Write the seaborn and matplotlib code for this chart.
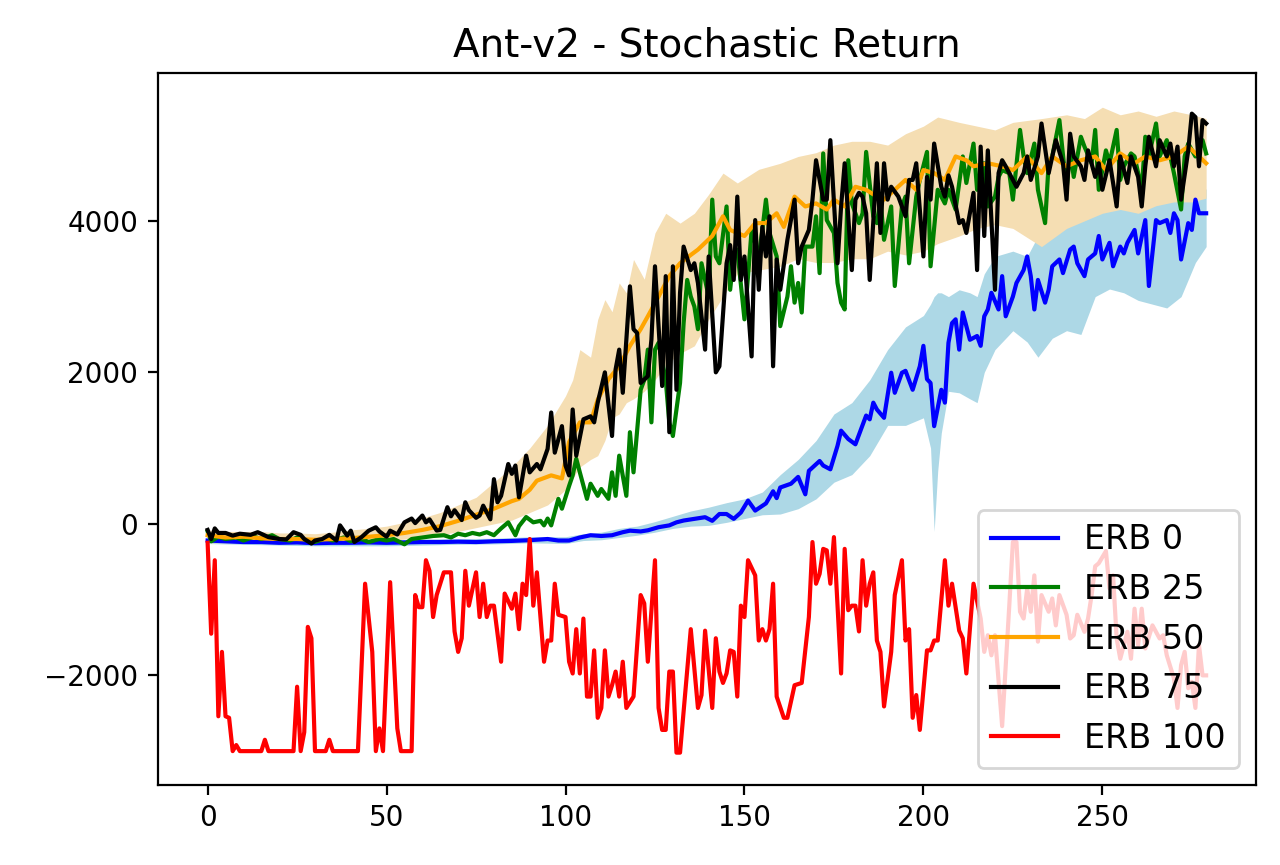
import numpy as np
import matplotlib
matplotlib.use('Agg')
import matplotlib.pyplot as plt
import seaborn as sns

# ERB 0 (blue) mean curve
erb0_x = [0, 5, 10, 15, 20, 25, 30, 35, 40, 45, 50, 55, 60, 65, 70, 75, 80, 85, 90, 95,
          98, 101, 104, 107, 110, 113, 116, 118, 121, 123, 126, 129, 131, 133, 136, 139, 141,
          143, 145, 147, 149, 151, 153, 156, 158, 159, 160, 163, 165, 167, 168, 171, 172, 174,
          176, 177, 179, 181, 184, 185, 186, 187, 189, 191, 192, 194, 195, 197, 199, 200, 201,
          202, 203, 205, 206, 207, 208, 209, 210, 211, 213, 215, 216, 217, 218, 219, 221, 222,
          223, 225, 226, 228, 229, 230, 231, 232, 234, 235, 236, 238, 239, 241, 242, 243, 245,
          246, 248, 249, 250, 252, 253, 255, 256, 257, 259, 260, 262, 263, 265, 266, 268, 269,
          270, 271, 272, 274, 275, 276, 277, 279]
erb0_y = [-220, -230, -240, -240, -250, -245, -255, -250, -250, -245, -250, -245, -240, -240,
          -235, -240, -230, -225, -215, -200, -220, -220, -180, -150, -160, -150, -110, -90,
          -100, -85, -44, -20, 20, 44, 66, 88, 40, 130, 130, 66, 150, 307, 175, 270, 430, 340,
          480, 530, 620, 390, 700, 830, 770, 720, 1030, 1230, 1120, 1050, 1430, 1380, 1600,
          1510, 1400, 1995, 1730, 1995, 2020, 1770, 2080, 2350, 1910, 1860, 1290, 1770, 1600,
          2390, 2650, 2700, 2300, 2790, 2430, 2480, 2350, 2740, 2830, 3050, 2830, 3270, 2740,
          3000, 3180, 3350, 3530, 3270, 2830, 3220, 2920, 3090, 3400, 3490, 3310, 3620, 3660,
          3440, 3270, 3490, 3570, 3800, 3490, 3710, 3400, 3660, 3570, 3710, 3880, 3570, 4010,
          3140, 4010, 3970, 4010, 3840, 4100, 4010, 3490, 3970, 3880, 4280, 4100, 4100]

# ERB 0 shaded band
erb0_band_x = [0, 10, 20, 30, 40, 50, 60, 70, 80, 90, 100, 105, 110, 115, 120, 125, 130, 135,
               140, 145, 150, 155, 160, 165, 170, 175, 180, 185, 190, 195, 200, 202, 203, 204,
               205, 207, 210, 213, 215, 217, 220, 225, 229, 232, 236, 240, 244, 248, 252, 256,
               260, 264, 268, 272, 276, 279]
erb0_lo = [-260, -270, -280, -290, -290, -290, -280, -270, -265, -250, -260, -220, -210, -180,
           -150, -110, -60, -30, -20, 20, 70, 120, 130, 200, 330, 550, 650, 900, 1300, 1300,
           1400, 1000, -100, 700, 1200, 1750, 1730, 1650, 1600, 2000, 2300, 2550, 2400, 2200,
           2450, 2550, 2500, 3000, 3100, 3050, 2950, 2900, 2850, 3000, 3450, 3660]
erb0_hi = [-180, -200, -210, -220, -210, -210, -200, -195, -190, -170, -170, -130, -110, -60,
           -30, 30, 100, 170, 220, 280, 330, 420, 650, 850, 1100, 1450, 1600, 1900, 2300, 2600,
           2750, 2900, 3000, 3050, 3050, 3000, 3090, 3050, 3000, 3300, 3530, 3600, 3530, 3800,
           3970, 3950, 4000, 4100, 4190, 4150, 4190, 4300, 4350, 4410, 4450, 4420]

# ERB 25 (green)
erb25_x = [0, 1, 3, 5, 8, 10, 13, 15, 18, 20, 23, 25, 28, 30, 33, 35, 38, 40, 43, 45, 48, 50,
           52, 55, 57, 60, 63, 66, 68, 70, 72, 74, 76, 78, 80, 82, 84, 86, 87, 89, 91, 93, 94,
           95, 96, 98, 99, 101, 102, 103, 104, 106, 107, 109, 110, 112, 113, 114, 115, 117, 118,
           119, 121, 122, 123, 124, 125, 126, 128, 129, 130, 132, 133, 134, 135, 136, 137, 138,
           140, 141, 142, 143, 145, 146, 147, 148, 150, 151, 152, 154, 155, 156, 157, 159, 160,
           162, 163, 164, 165, 166, 167, 169, 170, 171, 172, 173, 175, 176, 177, 178, 179, 180,
           182, 183, 184, 186, 187, 188, 189, 191, 192, 194, 195, 196, 198, 199, 201, 202, 204,
           206, 207, 209, 211, 212, 214, 215, 217, 218, 220, 221, 222, 224, 225, 227, 228, 229,
           231, 232, 234, 235, 236, 238, 240, 241, 242, 244, 245, 247, 248, 249, 251, 252, 254,
           255, 256, 258, 259, 261, 262, 263, 265, 266, 268, 269, 270, 272, 273, 274, 276, 277,
           278, 279]
erb25_y = [-100, -230, -170, -200, -180, -220, -170, -200, -150, -200, -220, -180, -220, -240,
           -190, -220, -180, -230, -200, -240, -200, -220, -200, -270, -200, -180, -160, -150,
           -180, -130, -150, -120, -140, -110, -150, -60, 20, -150, -30, 90, 20, 40, -20, 70,
           -20, 330, 200, 500, 640, 860, 680, 330, 530, 370, 460, 330, 680, 370, 900, 370, 1210,
           680, 1770, 1900, 2300, 1340, 2300, 2390, 1900, 1340, 1160, 1860, 2650, 3220, 3000,
           2870, 2570, 3440, 3000, 4280, 3530, 3440, 4190, 3090, 3530, 3620, 2700, 3270, 3880,
           3530, 3880, 4280, 3840, 3530, 2610, 3000, 3400, 2920, 3180, 2790, 3660, 3660, 4060,
           3310, 4890, 4010, 3840, 3180, 2920, 2830, 4800, 4230, 3970, 4100, 4910, 4060, 3970,
           4280, 3750, 4190, 3140, 4190, 4320, 3440, 4320, 4540, 4910, 3400, 4410, 4230, 4410,
           4150, 4850, 4500, 5020, 4410, 4760, 4190, 4320, 4580, 4670, 4630, 4280, 5200, 4850,
           4630, 5020, 4410, 3970, 4760, 4850, 5330, 4410, 4930, 4580, 5110, 4980, 4760, 5200,
           4410, 4930, 4760, 5200, 4540, 4720, 4890, 4850, 4410, 5110, 4850, 5285, 4850, 5065,
           4850, 4630, 4150, 4850, 5020, 4850, 4930, 5065, 4890]

# ERB 50 (orange) mean curve
erb50_x = [0, 5, 10, 15, 20, 25, 30, 35, 40, 45, 50, 55, 60, 65, 70, 75, 80, 85, 87, 90, 92,
           96, 99, 101, 104, 107, 109, 112, 115, 118, 121, 123, 126, 129, 132, 135, 137, 141,
           144, 146, 150, 153, 156, 159, 161, 164, 167, 170, 173, 175, 178, 181, 184, 187, 189,
           192, 195, 198, 200, 203, 206, 209, 212, 214, 218, 222, 225, 229, 233, 236, 240, 244,
           248, 251, 255, 259, 262, 266, 270, 274, 277, 279]
erb50_y = [-150, -180, -170, -190, -200, -200, -210, -200, -190, -170, -150, -120, -80, -30,
           40, 120, 200, 300, 330, 450, 570, 640, 600, 1080, 1340, 1340, 1640, 1910, 2080, 2350,
           2570, 2740, 3000, 3270, 3440, 3550, 3620, 3800, 4060, 3880, 3800, 3970, 3970, 4100,
           3920, 4320, 4190, 4230, 4150, 4280, 4190, 4450, 4410, 4320, 4280, 4410, 4540, 4410,
           4670, 4630, 4540, 4850, 4800, 4720, 4760, 4720, 4670, 4850, 4630, 4850, 4720, 4800,
           4850, 4670, 4890, 4760, 4850, 4800, 4850, 4980, 4850, 4760]

# ERB 50 shaded band
erb50_band_x = [0, 5, 10, 15, 20, 25, 30, 35, 40, 45, 50, 55, 60, 65, 70, 75, 80, 85, 90, 95,
                100, 102, 104, 107, 109, 111, 113, 115, 117, 119, 122, 125, 128, 132, 136, 140,
                144, 148, 154, 160, 165, 170, 175, 180, 185, 190, 195, 200, 204, 210, 215, 220,
                225, 233, 240, 245, 250, 255, 260, 265, 270, 275, 279]
erb50_lo = [-250, -250, -250, -240, -250, -260, -260, -250, -240, -230, -230, -200, -180, -150,
            -100, -50, 0, 50, 150, 250, 450, 600, 750, 850, 900, 1100, 1400, 1450, 1600, 1650,
            1750, 1900, 2100, 2250, 2350, 2700, 3000, 3300, 3350, 3400, 3500, 3450, 3450, 3500,
            3500, 3600, 3550, 3600, 3700, 3800, 3900, 3950, 3900, 3660, 3900, 4000, 4100, 4150,
            4100, 4200, 4250, 4250, 4300]
erb50_hi = [-80, -100, -100, -100, -120, -120, -130, -110, -80, -60, -30, 20, 80, 150, 250,
            350, 550, 750, 1000, 1300, 1690, 1900, 2300, 2200, 2700, 2960, 2800, 3180, 3050,
            3490, 3230, 3840, 4100, 3970, 4100, 4350, 4630, 4500, 4680, 4760, 4850, 4900, 5000,
            5050, 5050, 5000, 5150, 5250, 5370, 5300, 5250, 5200, 5300, 5350, 5400, 5350, 5500,
            5400, 5450, 5380, 5450, 5400, 5350]

# ERB 75 (black)
erb75_x = [0, 1, 2, 3, 5, 7, 9, 12, 14, 17, 20, 22, 24, 26, 27, 29, 30, 32, 34, 36, 37, 39,
           40, 41, 43, 45, 47, 48, 50, 51, 53, 55, 57, 58, 60, 61, 62, 64, 65, 67, 68, 69, 71,
           72, 73, 75, 76, 77, 79, 80, 81, 82, 84, 85, 86, 87, 89, 90, 92, 93, 95, 96, 97, 99,
           100, 101, 102, 103, 105, 107, 108, 109, 111, 113, 114, 115, 116, 118, 119, 120, 121,
           123, 124, 125, 127, 128, 129, 130, 131, 132, 133, 135, 136, 137, 139, 140, 142, 143,
           145, 146, 147, 148, 149, 150, 152, 153, 154, 155, 156, 157, 158, 159, 160, 162, 164,
           165, 166, 168, 169, 170, 172, 173, 174, 176, 177, 178, 180, 181, 182, 183, 184, 185,
           187, 188, 189, 190, 191, 193, 195, 196, 197, 198, 200, 201, 202, 203, 205, 206, 207,
           208, 210, 211, 212, 214, 215, 216, 217, 218, 220, 221, 222, 223, 225, 226, 228, 229,
           230, 232, 233, 235, 236, 237, 239, 240, 241, 242, 244, 245, 246, 248, 249, 250, 252,
           253, 254, 255, 257, 258, 260, 261, 262, 263, 265, 266, 268, 269, 270, 271, 272, 274,
           275, 276, 277, 278, 279]
erb75_y = [-80, -200, -60, -120, -120, -155, -130, -145, -110, -175, -200, -205, -110, -145,
           -200, -260, -220, -200, -145, -220, -20, -155, -90, -240, -175, -90, -45, -100, -170,
           -90, -140, 20, 70, 10, 110, 20, 60, -88, -80, 220, 100, 180, 50, 285, 180, 80, 110,
           240, 60, 590, 285, 370, 790, 660, 770, 350, 900, 680, 790, 720, 990, 1470, 940, 1290,
           770, 640, 1510, 900, 1380, 1420, 1340, 1600, 2000, 1160, 2040, 2300, 1730, 3135, 2570,
           2520, 1860, 1950, 2430, 3400, 1820, 3270, 1210, 3400, 1770, 3050, 3660, 3350, 3440,
           3180, 2300, 3530, 2000, 2080, 3440, 3680, 3220, 4320, 3220, 3530, 2210, 4010, 3090,
           3920, 3530, 4060, 2080, 3490, 3090, 3750, 4280, 3440, 3660, 3880, 4280, 4800, 4280,
           4280, 5065, 3440, 4190, 4760, 3350, 4280, 4370, 4320, 4100, 3220, 4760, 3840, 4760,
           4280, 4450, 4320, 4060, 4540, 4540, 4760, 3530, 4580, 4280, 5020, 4450, 4320, 4600,
           4450, 3970, 4010, 3840, 4370, 3350, 4980, 3800, 4930, 3090, 4630, 4800, 4720, 4540,
           4450, 4630, 4850, 4540, 4850, 5285, 4630, 4850, 5065, 4760, 4280, 5150, 4850, 4720,
           4540, 4930, 4580, 4760, 4410, 4800, 4500, 4190, 4850, 4500, 4850, 4580, 4190, 4720,
           5110, 4720, 5065, 4850, 5020, 4720, 4980, 4280, 4930, 5415, 5370, 4720, 5330, 5285]

# ERB 100 (red)
erb100_x = [0, 1, 2, 3, 4, 5, 6, 7, 8, 9, 15, 16, 17, 24, 25, 26, 27, 28, 29, 30, 33, 34, 35,
            42, 44, 46, 47, 48, 49, 51, 53, 54, 57, 58, 59, 60, 61, 62, 63, 64, 66, 68, 69, 70,
            71, 72, 73, 75, 76, 77, 78, 79, 80, 82, 83, 85, 86, 87, 88, 89, 90, 91, 92, 94, 95,
            96, 97, 98, 100, 101, 102, 103, 104, 105, 106, 107, 108, 109, 110, 111, 112, 113,
            114, 115, 116, 117, 119, 121, 122, 123, 125, 126, 127, 128, 129, 130, 131, 132, 135,
            137, 138, 139, 141, 142, 143, 144, 145, 146, 147, 148, 149, 150, 151, 153, 154, 155,
            156, 157, 158, 159, 161, 162, 164, 166, 168, 169, 170, 171, 172, 173, 174, 175, 177,
            178, 179, 180, 181, 182, 183, 184, 185, 186, 187, 188, 189, 191, 192, 194, 195, 196,
            197, 198, 199, 201, 202, 203, 204, 206, 207, 208, 210, 211, 212, 214, 216, 217, 218,
            219, 220, 222, 224, 225, 226, 227, 228, 229, 230, 231, 232, 233, 235, 236, 237, 238,
            240, 241, 242, 243, 245, 246, 247, 248, 249, 251, 252, 253, 254, 255, 257, 258, 259,
            260, 261, 262, 264, 265, 266, 267, 268, 270, 271, 272, 273, 274, 275, 276, 277, 278,
            279]
erb100_y = [-250, -1450, -480, -2540, -1690, -2540, -2560, -3000, -2920, -3000, -3000, -2850,
            -3000, -3000, -2150, -3000, -2750, -1360, -1510, -3000, -3000, -2850, -3000, -3000,
            -790, -1690, -3000, -2700, -3000, -770, -2700, -3000, -3000, -940, -1100, -1100,
            -480, -620, -1230, -940, -640, -640, -1420, -1690, -1510, -620, -1080, -640, -1230,
            -790, -1230, -1080, -1080, -1820, -920, -1120, -920, -1390, -790, -940, -200, -1080,
            -640, -1820, -1540, -1540, -790, -1200, -1230, -1820, -1975, -1390, -1975, -1250,
            -2280, -2280, -1670, -2560, -2430, -1670, -2280, -2130, -1950, -2280, -1820, -2430,
            -2280, -940, -1050, -1820, -480, -2430, -2720, -2720, -1950, -1950, -3020, -3020,
            -1390, -2430, -2260, -1410, -2430, -1510, -1950, -2100, -1975, -1670, -1690, -2280,
            -1080, -1230, -480, -680, -1540, -1390, -1540, -1390, -790, -2280, -2560, -2560,
            -2130, -2100, -1230, -240, -790, -660, -330, -350, -790, -175, -1975, -330, -1140,
            -1080, -1080, -1420, -480, -1080, -790, -640, -1540, -1690, -2410, -1690, -940, -480,
            -1540, -1390, -2560, -2260, -2720, -1670, -1670, -1540, -1540, -480, -1080, -790,
            -1410, -1510, -1975, -790, -1250, -1690, -1470, -1735, -1470, -2670, -1075, -240,
            -240, -1160, -1250, -855, -1160, -680, -1555, -940, -1160, -985, -1340, -940, -1200,
            -1513, -1470, -1200, -1425, -1250, -940, -560, -520, -360, -855, -680, -1513, -1780,
            -1425, -1780, -1120, -1600, -1120, -1645, -1340, -1425, -1513, -1470, -1735, -2040,
            -2430, -1865, -1690, -2170, -2085, -2430, -1600, -2000, -2000]

fig, ax = plt.subplots(figsize=(6.4, 4.325), dpi=200)
fig.subplots_adjust(left=0.1232, right=0.9813, top=0.9152, bottom=0.0925)

ax.fill_between(erb0_band_x, erb0_lo, erb0_hi, color='lightblue', linewidth=0)
ax.fill_between(erb50_band_x, erb50_lo, erb50_hi, color='wheat', linewidth=0)

sns.lineplot(x=erb0_x, y=erb0_y, color='blue', label='ERB 0', estimator=None, ax=ax)
sns.lineplot(x=erb25_x, y=erb25_y, color='green', label='ERB 25', estimator=None, ax=ax)
sns.lineplot(x=erb50_x, y=erb50_y, color='orange', label='ERB 50', estimator=None, ax=ax)
sns.lineplot(x=erb75_x, y=erb75_y, color='black', label='ERB 75', estimator=None, ax=ax)
sns.lineplot(x=erb100_x, y=erb100_y, color='red', label='ERB 100', estimator=None, ax=ax)

ax.set_xlim(-13.95, 292.95)
ax.set_ylim(-3447, 5947)
ax.set_xticks([0, 50, 100, 150, 200, 250])
ax.set_yticks([-2000, 0, 2000, 4000])
ax.set_title('Ant-v2 - Stochastic Return', fontsize=14)
ax.legend(loc='lower right', fontsize=12)
plt.savefig('out.png', dpi=200)
